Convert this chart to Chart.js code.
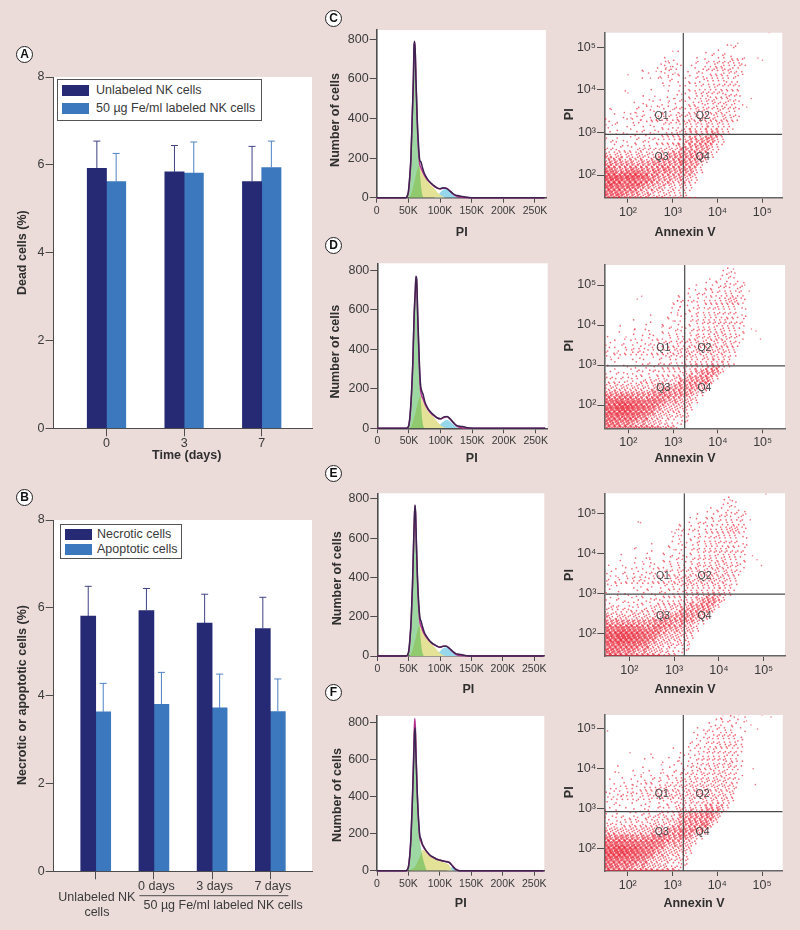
<!DOCTYPE html>
<html lang="en">
<head>
<meta charset="UTF-8">
<title>NK cell viability and cell cycle</title>
<script src="https://cdn.jsdelivr.net/npm/chart.js"></script>
<style>
  html, body { margin: 0; padding: 0; background: #ebdcda; }
  body { position: relative; width: 800px; height: 930px; overflow: hidden; font-family: "Liberation Sans", Arial, sans-serif; color: #3a3a3a; }
  canvas { position: absolute; }
  .letter { position: absolute; width: 15px; height: 15px; border: 1.3px solid #222; border-radius: 50%; background: #fff; color: #111; font: bold 12px/15px "Liberation Sans", Arial, sans-serif; text-align: center; z-index: 3; }
  .legend { position: absolute; box-sizing: border-box; background: #fff; border: 1.4px solid #555; font-size: 12.5px; z-index: 3; }
  .legend div { position: absolute; left: 38px; white-space: nowrap; line-height: 14px; }
  .legend i { position: absolute; left: 4px; width: 26.5px; height: 11px; }
</style>
</head>
<body>

<div class="letter" style="left:16px;top:46px">A</div>
<div class="letter" style="left:16px;top:489px">B</div>
<div class="letter" style="left:325px;top:10px">C</div>
<div class="letter" style="left:325px;top:237px">D</div>
<div class="letter" style="left:325px;top:465px">E</div>
<div class="letter" style="left:325px;top:684px">F</div>

<div class="legend" style="left:57px;top:79px;width:205px;height:42px">
  <i style="top:5px;background:#262a75"></i><div style="top:3px">Unlabeled NK cells</div>
  <i style="top:23px;background:#3c78be"></i><div style="top:21px">50 µg Fe/ml labeled NK cells</div>
</div>
<div class="legend" style="left:60px;top:524px;width:122px;height:35px">
  <i style="top:3.5px;background:#262a75"></i><div style="top:2px;left:36px">Necrotic cells</div>
  <i style="top:19px;background:#3c78be"></i><div style="top:17px;left:36px">Apoptotic cells</div>
</div>

<canvas id="panelA"></canvas>
<canvas id="panelB"></canvas>
<canvas id="histC"></canvas>
<canvas id="histD"></canvas>
<canvas id="histE"></canvas>
<canvas id="histF"></canvas>
<canvas id="dotC"></canvas>
<canvas id="dotD"></canvas>
<canvas id="dotE"></canvas>
<canvas id="dotF"></canvas>

<script>
  // Panel A
  const daysA = ['0', '3', '7'];
  const unlabeledA = [5.92, 5.84, 5.62];
  const labeledA = [5.62, 5.81, 5.94];
  const unlabeledTopA = [6.54, 6.44, 6.42];
  const labeledTopA = [6.26, 6.52, 6.54];

  // Panel B
  const groupsB = ['', '0 days', '3 days', '7 days'];
  const necroticB = [5.81, 5.94, 5.65, 5.53];
  const apoptoticB = [3.63, 3.80, 3.72, 3.64];
  const necroticTopB = [6.49, 6.44, 6.31, 6.24];
  const apoptoticTopB = [4.28, 4.53, 4.49, 4.38];

  // Histograms C-F, PI in thousands
  const piK = [0,44,46,48,50,52,54,56,58,59,60,61,62,64,66,68,70,72,75,80,85,90,95,100,105,110,115,120,125,130,135,140,150,265];
  const rawC =     [0,0,0,8,30,100,200,400,610,770,790,730,600,400,270,190,180,155,125,95,75,62,50,45,50,47,35,22,12,10,6,3,0,0];
  const modelC =   [0,0,0,6,25,90,190,390,600,760,785,720,590,380,240,170,150,135,115,90,75,60,50,45,48,48,36,20,10,5,2,1,0,0];
  const g1C =      [0,0,0,4,20,70,170,360,570,740,780,710,590,390,250,140,60,15,0,0,0,0,0,0,0,0,0,0,0,0,0,0,0,0];
  const sC =       [0,0,0,0,0,5,15,35,60,72,85,100,115,140,160,150,140,125,110,85,65,50,30,15,5,0,0,0,0,0,0,0,0,0];
  const g2C =      [0,0,0,0,0,0,0,0,0,0,0,0,0,0,0,0,0,0,0,0,0,0,8,25,40,45,32,18,6,0,0,0,0,0];

  const rawD =     [0,0,0,4,20,80,180,330,560,640,700,770,760,560,370,230,190,175,135,100,80,65,52,48,58,60,48,30,15,10,9,4,0,0];
  const modelD =   [0,0,0,3,16,70,170,320,550,630,690,765,750,540,340,205,165,150,125,95,75,62,52,48,55,58,46,28,12,5,2,1,0,0];
  const g1D =      [0,0,0,2,12,55,150,300,530,610,680,760,740,530,340,190,75,20,0,0,0,0,0,0,0,0,0,0,0,0,0,0,0,0];
  const sD =       [0,0,0,0,0,4,12,30,55,65,75,90,105,130,150,165,150,135,118,85,68,52,32,15,5,0,0,0,0,0,0,0,0,0];
  const g2D =      [0,0,0,0,0,0,0,0,0,0,0,0,0,0,0,0,0,0,0,0,0,0,8,22,36,42,35,20,7,0,0,0,0,0];

  const rawE =     [0,0,0,5,25,90,190,360,600,700,770,730,610,400,270,195,175,150,120,92,72,60,50,45,50,50,38,24,12,9,6,3,0,0];
  const modelE =   [0,0,0,4,20,80,180,350,590,690,765,720,600,385,245,170,150,132,112,88,70,58,50,44,50,50,38,22,9,4,2,1,0,0];
  const g1E =      [0,0,0,3,15,62,160,330,570,670,760,710,590,385,240,130,55,15,0,0,0,0,0,0,0,0,0,0,0,0,0,0,0,0];
  const sE =       [0,0,0,0,0,4,12,30,55,65,78,90,105,130,150,155,140,125,108,82,65,50,30,14,4,0,0,0,0,0,0,0,0,0];
  const g2E =      [0,0,0,0,0,0,0,0,0,0,0,0,0,0,0,0,0,0,0,0,0,0,8,24,40,44,35,18,6,0,0,0,0,0];

  const rawF =     [0,0,0,4,22,80,180,350,560,680,770,740,620,420,280,190,170,145,125,100,82,72,62,58,52,48,44,25,8,0,0,0,0,0];
  const modelF =   [0,0,0,4,20,75,175,350,590,720,820,770,640,420,270,180,158,140,122,98,80,70,62,56,52,50,45,26,8,1,0,0,0,0];
  const g1F =      [0,0,0,3,16,65,160,330,550,670,760,730,610,400,260,170,120,80,40,0,0,0,0,0,0,0,0,0,0,0,0,0,0,0];
  const sF =       [0,0,0,0,0,2,5,10,15,17,20,25,30,45,60,75,90,110,112,92,78,66,58,52,46,40,30,2,0,0,0,0,0,0];
  const g2F =      [0,0,0,0,0,0,0,0,0,0,0,0,0,0,0,0,0,0,0,0,0,0,0,0,0,0,12,18,6,0,0,0,0,0];

  // Dot plots: log10 positions. Density rows, one row every
  // 0.06 decade of PI, one column every 0.06 decade of Annexin V from 10^1.46.
  // upper* rows run from 10^5.42 to 10^3.26, grid* rows from 10^3.2 to 10^1.46.
  const gateC = [3.234, 2.958];
  const gateD = [3.259, 2.98];
  const gateE = [3.228, 2.987];
  const gateF = [3.241, 2.92];
  const quadC = [[2.75,3.39],[3.67,3.39],[2.75,2.42],[3.67,2.42]];
  const quadD = [[2.78,3.42],[3.7,3.42],[2.78,2.43],[3.7,2.43]];
  const quadE = [[2.75,3.44],[3.68,3.44],[2.75,2.43],[3.68,2.43]];
  const quadF = [[2.76,3.36],[3.67,3.36],[2.76,2.41],[3.67,2.41]];

  const upperC = [
    '', '', '', '', '', '',
    '0000000000 0000000000 0000000000 0000000000 0000003004',
    '0000000000 0000000000 0000000000 0000000000 0000000040',
    '0000000000 0000000000 0000000400 0000000000 0040000000',
    '0000000000 0000000000 0000000000 0000000040 0300040000',
    '0000000000 0000000000 0000000000 0000000000 4000300400',
    '0000000000 0000000000 0030000000 0000400300 0040400304 0300',
    '0000000000 0000000000 0004003000 0000040003 0403040530 4000',
    '0000000000 0000000000 0400400300 0000300040 0530405040 5400',
    '0000000000 0000000000 0030040040 0040000304 0405304050 4040',
    '0000000000 0000000000 3004030400 0000400503 0340530450 5000',
    '0000000000 0000300000 0400300000 0300030040 3050405304 0400',
    '0000000000 0000003000 0030040300 0000403004 0403503040 0300',
    '0000000000 0000000000 0300300040 0040030500 3040304003 4000',
    '0000000000 0000400000 4000030000 3000400340 5030504030',
    '0000000000 0000000000 0000300400 0400030040 3040340503',
    '0000000000 0000000000 0030000000 0030400305 0403050304',
    '0000000000 0000000000 0000400030 4000304003 0530403040 3000',
    '0000000000 0000000300 0000000000 0400030405 0304030503',
    '0000000040 0000000000 0000300040 0030400304 0503405030 4000',
    '0000000000 0000000000 0000000300 4000304050 3040530403',
    '0000000000 0000400000 0004000000 0300403045 0304053040 3000',
    '0000000000 0000000300 0300004003 0040304053 0450304503',
    '0000000000 0300000040 0000300040 3004035040 5304053040 4000',
    '0000000000 0000300000 0400003000 0403004530 4050340530 0300',
    '0000000000 0003004000 3000400304 0030450304 0530450304',
    '0030000000 0040000300 0040003040 3040530450 3045305040 3000',
    '0000000300 0300400040 0300400304 0403504035 0453054030',
    '0000400000 3000030004 0030040403 0450340530 4530450304',
    '0000000400 0040300400 3040300450 3040530453 0450530430 4000',
    '3000000030 4003000304 0403040305 0453045304 5304530403',
    '0040030000 0304003040 3004050340 4530453045 3054304030'
  ];
  const upperD = [
    '0000000000 0000000000 0000000000 0000000000 0000004000',
    '0000000000 0000000000 0000000000 0000000000 0000300400',
    '0000000000 0000000000 0000000000 0000000000 0000030040',
    '0000000000 0000000000 0000000000 0000000000 0000400300',
    '0000000000 0000000000 0000000000 0000000003 0004003040',
    '0000000000 0000000000 0000000000 0000000000 0300040003',
    '0000000000 0000000000 0000000000 0000000040 0030040304 0030',
    '0000000000 0000000000 0000000000 0000300000 3004030040 0300',
    '0000000000 0000000000 0000000000 0400000304 0030403004 3000',
    '0000000000 0000000000 0000000000 0000300040 3004030403 0400',
    '0000000000 0000000000 0000000000 0300040300 4030040300 4000',
    '0000000000 0000000000 0000000300 0000304003 0405030405 0300',
    '0000000000 0000000000 0000000040 0040030040 3004030566 0400',
    '0000000000 0000000000 0000000403 0304000304 0403055677 0030',
    '0000000000 0000000000 0000000030 0040300403 0304035664 0300',
    '0000000000 0000000000 0000004000 0300040030 4030403040 4000',
    '0000000000 0000000000 0000030040 0004030403 0530403040 0300',
    '0000000000 0000000000 0000000300 0400300040 3040304030 0040',
    '0000000000 0000000000 0000040000 0030040304 0304050304',
    '0000000000 0000000300 0000000300 4000300403 0530403050 0300',
    '0000000000 0000000000 0003000040 0030400304 0403050304 0040',
    '0000000000 0300000000 0000300000 3004030405 0304053040 0030',
    '0000000000 0000000400 0000004030 0040300403 0504030403 0400',
    '0000000000 0000030000 0300000300 0300403040 5040304050 3000',
    '0000004000 0000000000 0040030004 0030040305 0340503040 0040',
    '0000000000 0300040000 0000400300 4003040304 0503405030 3000',
    '0000030000 0000003000 0300004030 0040304053 0405304050 0400',
    '0000000000 0400000300 0040300400 3040030405 0350430405 0030',
    '0300000000 0000300040 0000300403 0030450304 0530450304 3000',
    '0000000300 0300004003 0400400304 0403504035 0453054030 0300',
    '0000400000 3000300040 3004030403 0450340530 4530450304 0000',
    '0030000300 0040030400 3040300450 3040530453 0450530430 4000',
    '3000004000 3004003040 0403040305 0453045304 5304530403',
    '0040300030 0304030040 3040503404 4530453045 3054304030',
    '0400030040 3004003040 3050403450 5304530453 4530454030',
    '3004000300 4030400304 0304530450 4530453045 3045304030',
    '0300403040 3040304030 4053045304 5345304530 4530450304'
  ];
  const upperE = upperD;
  const upperF = [
    '',
    '0000000000 0000000000 0000000000 0000000000 0000300400 3000',
    '0000000000 0000000000 0000000000 0000000000 0004000030 0040',
    '0000000000 0000000000 0000000000 0000000000 0030400300 4000',
    '0000000000 0000000000 0000000000 0000000004 0000304003 0030',
    '0000000000 0000000000 0000000000 0000000000 0403000400',
    '0000000000 0000000000 0000000000 0000030000 3004030040 0300',
    '0000000000 0000000000 0000000000 0000000403 0030040300',
    '0000000000 0000000000 0000000000 0004000030 4003040300 0040',
    '0000000000 0000000000 0000000000 0000030040 0304030405',
    '0000000000 0000000000 0000000000 0000000304 0030405030 0300',
    '0000000000 0000000000 0000000000 0000400030 4050304040 0400',
    '0000000000 0000000000 0000000000 0003004003 0403050304 3000',
    '0000000000 0000000000 0000000000 0030040030 4053040503 0300',
    '0000000000 0000000000 0000000000 0400300404 0304053040 0400',
    '0000000000 0000000000 0000004000 0000403003 0450304030 3000',
    '0000000000 0000000000 0000000000 0030040304 0304040503 0300',
    '0000000000 0000000400 0000000030 0300040030 4050304030',
    '0000000000 0000000000 0000000000 4000300405 0304053040 3000',
    '0000000000 0000030040 0000400040 0030040304 0503040304',
    '0000000000 0000000000 0000000300 0300403040 3040530403 0300',
    '0000000000 0000000000 0040000004 0004030403 0504030530',
    '0000040000 0000000000 0000003000 0403004053 0430405304 0400',
    '0000000000 0000300000 0000400003 0030430403 0530405030',
    '0000000000 0400000300 0030000400 4003043040 5304053040 3000',
    '0000300000 0000000000 0300004003 0304003504 0304530403',
    '0000000000 0300000400 0004030040 3040304530 4053045030 0300',
    '0000000400 0000300004 0300400304 0030450304 0530450304',
    '0030000000 3000040030 0400300403 4050304053 0453054030 3000',
    '0000000300 0040030400 3004030450 3045304530 4530450304',
    '0000300000 0300403040 0304040305 0453045304 5304530430',
    '3000004030 0040030403 0403504045 3045304530 4530453043',
    '0040300040 3004030403 4053045304 5304530453 0453045030',
    '0300403004 0300403040 3045304530 4530453045 3045304530',
    '4030040300 4030403504 5304530453 0453045304 5304530430',
    '0403004030 4003504030 4530453045 3045304530 4530450300',
    '3004030403 0403040530 4530453045 3045304530 4530453040'
  ];

  const gridC = [
    '0000100000 0100000100 0010100010 2010201020 1020102000',
    '0100000010 0000100010 0100010100 1020102030 2010201000',
    '0000010000 1000010001 0010200101 2030201030 2030102010',
    '0010000100 0010100100 1001010120 1030302030 4130201000',
    '1000100010 0100010010 0102010201 3020314032 5142201000',
    '0100010000 1001000101 0010101020 2031302143 4130200000',
    '1001000100 0010010010 1020102030 1230413132 3120100000',
    '0010100010 0100101001 0101020102 3140314241 3020100000',
    '1000100101 0010010100 2010102130 2041324131 3010100000',
    '0101001000 1001010101 0201120213 4130423132 2010000000',
    '1010110101 0011101020 1120211041 3142313230 2010000000',
    '2110211011 1011201120 2110213132 4132413141 1010000000',
    '3120112011 2011112021 1121314142 3251413120 1000000000',
    '3231213021 1121201122 3121324151 4152413120 1000000000',
    '4132314121 3121312132 3241314253 5142413110 0000000000',
    '5241413231 3221323133 4231524253 4142312010 0000000000',
    '5352414241 3241314241 4352413152 4132302000 0000000000',
    '6453525142 5342514142 5243514142 4241301000 0000000000',
    '6564616253 5463525253 5253413241 4131201000 0000000000',
    '7567728675 6873666253 4241423142 3132201000 0000000000',
    '7986798679 7889768253 4231423132 3231100000 0000000000',
    '8798879688 7976867352 4132313231 2120100000 0000000000',
    '7887898678 7966675342 3231312132 2120100000 0000000000',
    '7678879667 6768534132 3122312021 3010100000 0000000000',
    '6785676567 5654413231 2130212021 2010000000 0000000000',
    '6576676454 5342423121 3120211021 1010000000 0000000000',
    '5675565343 4342312031 2120112010 2010000000 0000000000',
    '5464574342 3241213120 2011201010 1000000000 0000000000',
    '5343454231 3132213021 1120101010 1000000000 0000000000',
    '8987879878 8776787776 7667676765 6757500000 0000000000'
  ];
  const gridD = [
    '0000010000 0001000010 0100100010 1020100120 1020102000',
    '0010000000 1000100000 1000101000 1010201020 3020201000',
    '0000100000 0010000100 0100010101 1010102010 2020301000',
    '0100000100 0000101000 1010100100 2010301020 3020201010',
    '0000000010 0100010010 0101010201 1020201030 4130201000',
    '1000100000 1001000101 0010102010 2020301140 5230100000',
    '0010010100 0010100010 1010101021 1020313241 4231100000',
    '1000100010 1001001001 0101020102 2130214152 4120000000',
    '0101000101 0010100100 2010201120 1131324252 3010000000',
    '1010101000 1010010101 1021011031 2132314152 2010000000',
    '0101010110 1001110120 1120201132 3132415341 1000000000',
    '1120110101 1011201011 2110212142 3241423130 1000000000',
    '2011102110 1110112021 1221213142 3142412120 0000000000',
    '2120211211 2112101122 2131323142 3241312110 0000000000',
    '3121322121 2121221233 2142313242 3131211010 0000000000',
    '4231324232 3132323232 3342414141 3231201000 0000000000',
    '5342435343 4241324143 4253413142 3120201000 0000000000',
    '6453546455 5353425353 4342413132 2121100000 0000000000',
    '6654767666 6564645353 4342313122 2120100000 0000000000',
    '7565789877 7676646453 3231213121 2110100000 0000000000',
    '7686879888 8786754453 3131211212 1110000000 0000000000',
    '7796889897 8676765352 3121212111 2010000000 0000000000',
    '8677788988 7676564342 3212121101 1010000000 0000000000',
    '7787687877 6765543332 2121201120 1100000000 0000000000',
    '6766786676 5654433231 2112110111 0100000000 0000000000',
    '6675665565 5443342221 2101201010 1000000000 0000000000',
    '5565564454 4342233121 1201101001 0100000000 0000000000',
    '5454453343 3232312121 1102010100 1000000000 0000000000',
    '4543442342 3221322110 2011010010 0000000000 0000000000',
    '6566565656 5655454543 4323232100 0000000000 0000000000'
  ];
  const gridE = [
    '0000100000 0001000100 0010010010 1020101020 1020102000',
    '0100000000 1000010000 1001010100 2010102010 2030201000',
    '0000010000 0010001000 0100100101 1020201020 2020201010',
    '1000000100 0000100100 1010010100 1010301020 3021201000',
    '0000100010 0101000010 0101010201 2020102130 4130201000',
    '0010010000 1000100101 0010201010 2020311141 5220100000',
    '1000100100 0010010010 1101010211 1020213241 4131100000',
    '0100001010 1001001001 0102010102 2130213152 4020000000',
    '1001010001 0010100101 2010112120 1131314242 3110000000',
    '0110100100 1010010110 1020111031 2132315142 2010000000',
    '1010101011 0101110120 1120201232 3132415241 1000000000',
    '2101101010 1101201011 2110212141 3241413130 1000000000',
    '2110211201 1110112021 2121213142 3142312120 0000000000',
    '3120212110 2112111122 2131323243 3231312110 0000000000',
    '3221312211 2121222133 2142314242 3131211010 0000000000',
    '4231423232 3132323132 3342414142 3131201000 0000000000',
    '5342435243 4241324243 4253412142 2120201000 0000000000',
    '6453546454 5353425253 4342313132 2121100000 0000000000',
    '6554667565 6464645353 4242313122 2110100000 0000000000',
    '7565778776 7676646453 3231213121 2110100000 0000000000',
    '7686898887 8786754443 3131212112 1010000000 0000000000',
    '7796889987 8776765342 3121212111 2010000000 0000000000',
    '8677799988 7776564342 2212121101 1010000000 0000000000',
    '7787788878 6765543232 2121201110 1100000000 0000000000',
    '6766786676 5654433131 2112110111 0100000000 0000000000',
    '6675665565 5443342221 2101201010 1000000000 0000000000',
    '5565564454 4342233121 1201101001 0100000000 0000000000',
    '5454453343 3232312111 1102010100 1000000000 0000000000',
    '4543442342 3221322110 2011010010 0000000000 0000000000',
    '7676575656 6655454543 4323222100 0000000000 0000000000'
  ];
  const gridF = [
    '0100000000 0010000100 0010010100 1011010210 1020102010',
    '0000100000 1000010000 1001001011 1020102021 2030201000',
    '0000001000 0000100100 0100100110 2010201030 3021301000',
    '0010000010 0100010000 1010100121 2011202031 4032201000',
    '1000100000 0001001001 0101010211 2130213142 4130210000',
    '0100010000 1010010100 0120101021 3132314243 5231100000',
    '0001000100 0100100101 1011021031 2231424152 4221000000',
    '1000101001 0010011010 1021010231 3141425253 3120000000',
    '0010010010 1011001011 2010211122 3241424262 3110000000',
    '1101001010 1010101101 2021101231 3242515352 2010000000',
    '0110101101 1101110211 1120211242 4251415351 1000000000',
    '1201110110 1120111121 2120213242 3242514241 1000000000',
    '2121211211 2121112122 1221314243 4243423120 0000000000',
    '3122121222 1212212132 2232324253 4242313110 0000000000',
    '3231322323 2321322233 2243324243 3241211010 0000000000',
    '4342433332 3232333243 3342424242 3131201000 0000000000',
    '5443544443 4342434343 4353423142 3120101000 0000000000',
    '6554655554 5453535353 4342413132 2121100000 0000000000',
    '7665766665 6565645453 4342313122 2110100000 0000000000',
    '7776889876 7776656463 3332223131 2110000000 0000000000',
    '8787989987 8786765453 3231212112 1110000000 0000000000',
    '8797989987 8776764352 3221212111 2010000000 0000000000',
    '8788799887 7776654342 3212121101 1010000000 0000000000',
    '7787788777 6765543332 2131201120 1100000000 0000000000',
    '6776776676 5654433231 2122110111 0100000000 0000000000',
    '6675665565 5443342221 2111201010 1000000000 0000000000',
    '5565564454 4342233121 1201101011 0100000000 0000000000',
    '5454453343 3232312121 1112010100 1000000000 0000000000',
    '4543442342 3221322120 2011011010 0000000000 0000000000',
    '7676676766 6656565654 5434323110 0000000000 0000000000'
  ];

  const dotsC = [[2.0,4.36],[2.34,4.44],[2.9,4.68],[2.85,4.52],[2.95,4.55],[3.0,4.91],[2.63,4.44],[2.5,4.28],[2.75,4.28],[2.9,4.3],[3.05,4.4],[2.8,4.1],[2.0,3.93],[2.6,3.85],[1.63,3.54],[1.51,3.18],[1.65,3.17],[2.19,3.46],[2.07,3.34],[2.41,3.65],[2.52,3.61],[2.63,3.3],[2.86,3.3],[3.0,3.54],[3.1,3.3],[2.3,3.3],[2.7,3.6],[2.9,3.7],[3.05,3.8],[3.15,3.45],[3.2,3.9],[4.45,5.1],[4.3,5.05],[4.9,4.75],[5.0,4.7],[5.15,5.35],[4.6,4.75],[4.65,3.6],[4.75,3.8]];
  const dotsD = [[2.2,4.65],[2.3,4.72],[2.75,3.95],[3.0,4.55],[3.1,4.6],[3.15,4.45],[3.0,4.1],[3.1,4.3],[2.15,3.9],[1.95,3.7],[1.75,3.3],[1.6,3.2],[4.6,5.0],[4.7,4.85],[4.75,3.9],[4.85,3.85],[4.95,3.65],[5.0,5.55],[4.25,5.3],[4.35,5.4]];
  const dotsE = [[2.2,4.8],[2.25,4.78],[2.15,4.15],[2.45,3.9],[2.95,4.55],[3.05,4.6],[3.1,4.45],[3.0,4.1],[3.15,4.3],[2.3,3.8],[1.85,3.7],[1.75,3.4],[1.6,3.2],[4.6,5.0],[4.7,4.85],[4.75,3.95],[4.85,3.85],[4.95,3.7],[5.05,5.5],[4.25,5.35]];
  const dotsF = [[1.55,4.95],[2.05,4.4],[2.3,3.85],[2.35,3.9],[2.75,4.1],[2.8,3.9],[3.15,4.2],[3.2,3.9],[1.8,3.9],[2.1,3.6],[1.85,3.3],[1.7,3.1],[4.85,3.6],[4.9,5.0],[5.0,5.35],[5.2,5.3],[4.8,4.0],[4.75,5.1],[4.65,5.2]];

  const tickFont = { family: '"Liberation Sans", Arial, sans-serif', size: 12.5 };
  const inkColor = '#3a3a3a';
  const axisColor = '#4d4d4d';

  // white plot background
  const plotBg = {
    id: 'plotBg',
    beforeDraw(chart) {
      const a = chart.chartArea;
      chart.ctx.save();
      chart.ctx.fillStyle = '#fff';
      chart.ctx.fillRect(a.left, a.top, a.right - a.left, a.bottom - a.top);
      chart.ctx.restore();
    }
  };

  // axis titles, placed where the figure has them (page coordinates)
  const axisTitles = {
    id: 'axisTitles',
    afterDraw(chart, args, opts) {
      const c = chart.ctx, box = chart.canvas.getBoundingClientRect();
      c.save();
      c.fillStyle = '#2f2f2f';
      c.font = 'bold 12.5px "Liberation Sans", Arial, sans-serif';
      c.textAlign = 'center';
      c.textBaseline = 'middle';
      c.fillText(opts.x[0], opts.x[1] - box.left, opts.x[2] - box.top);
      c.translate(opts.y[1] - box.left, opts.y[2] - box.top);
      c.rotate(-Math.PI / 2);
      c.fillText(opts.y[0], 0, 0);
      c.restore();
    }
  };

  const errorBars = {
    id: 'errorBars',
    afterDatasetsDraw(chart, args, opts) {
      const c = chart.ctx, y = chart.scales.y;
      opts.tops.forEach((tops, i) => {
        chart.getDatasetMeta(i).data.forEach((bar, j) => {
          const top = y.getPixelForValue(tops[j]);
          c.save();
          c.strokeStyle = opts.colors[i];
          c.lineWidth = 1;
          c.beginPath();
          c.moveTo(bar.x, bar.y);
          c.lineTo(bar.x, top);
          c.moveTo(bar.x - 3.5, top);
          c.lineTo(bar.x + 3.5, top);
          c.stroke();
          c.restore();
        });
      });
    }
  };

  const groupLabels = {
    id: 'groupLabels',
    afterDraw(chart) {
      const c = chart.ctx, x = chart.scales.x, t = chart.canvas.getBoundingClientRect().top;
      c.save();
      c.fillStyle = inkColor;
      c.font = '12.5px "Liberation Sans", Arial, sans-serif';
      c.textAlign = 'center';
      c.textBaseline = 'middle';
      c.fillText('Unlabeled NK', x.getPixelForValue(0.02), 897.7 - t);
      c.fillText('cells', x.getPixelForValue(0.02), 912.7 - t);
      c.fillText('50 µg Fe/ml labeled NK cells', x.getPixelForValue(2.19), 905.3 - t);
      c.strokeStyle = axisColor;
      c.lineWidth = 1;
      c.beginPath();
      c.moveTo(x.getPixelForValue(0.75), 895.7 - t);
      c.lineTo(x.getPixelForValue(3.31), 895.7 - t);
      c.stroke();
      c.restore();
    }
  };

  const quadLabels = {
    id: 'quadLabels',
    afterDatasetsDraw(chart, args, opts) {
      const c = chart.ctx;
      c.save();
      c.fillStyle = '#444';
      c.font = '10.5px "Liberation Sans", Arial, sans-serif';
      c.textAlign = 'center';
      c.textBaseline = 'middle';
      opts.spots.forEach((p, i) => {
        c.fillText('Q' + (i + 1), chart.scales.x.getPixelForValue(10 ** p[0]), chart.scales.y.getPixelForValue(10 ** p[1]));
      });
      c.restore();
    }
  };

  // size a canvas and pin the plot area to page coordinates
  function pin(canvas, box) {
    canvas.width = box.w;
    canvas.height = box.h;
    canvas.style.left = box.x + 'px';
    canvas.style.top = box.y + 'px';
    canvas.style.width = box.w + 'px';
    canvas.style.height = box.h + 'px';
    return {
      padding: { left: 0, top: box.t - box.y, right: box.x + box.w - box.r, bottom: 0 },
      fitY: s => { s.width = box.l - box.x; },
      fitX: s => { s.height = box.y + box.h - box.b; }
    };
  }

  function barPanel(id, box, labels, series, tops, names, thickness, xmin, xmax, titles, extra, labelOffset) {
    const fit = pin(document.getElementById(id), box);
    new Chart(document.getElementById(id), {
      type: 'bar',
      data: {
        datasets: series.map((vals, i) => ({
          label: names[i],
          data: vals.map((v, j) => ({ x: j, y: v })),
          backgroundColor: ['#262a75', '#3c78be'][i],
          barThickness: thickness,
          borderWidth: 0
        }))
      },
      options: {
        responsive: false,
        animation: false,
        layout: { padding: fit.padding },
        scales: {
          x: {
            type: 'linear', min: xmin, max: xmax, offset: false,
            grid: { offset: false, drawOnChartArea: false, tickLength: 8, color: axisColor },
            border: { color: axisColor, width: 1 },
            afterBuildTicks: s => { s.ticks = labels.map((l, i) => ({ value: i })); },
            afterFit: fit.fitX,
            ticks: { font: tickFont, color: inkColor, padding: 0, maxRotation: 0, autoSkip: false, labelOffset: labelOffset, callback: v => labels[v] }
          },
          y: {
            min: 0, max: 8,
            grid: { drawOnChartArea: false, tickLength: 8, color: axisColor },
            border: { color: axisColor, width: 1 },
            afterBuildTicks: s => { s.ticks = [0, 2, 4, 6, 8].map(v => ({ value: v })); },
            afterFit: fit.fitY,
            ticks: { font: tickFont, color: inkColor, padding: 1 }
          }
        },
        plugins: {
          legend: { display: false },
          tooltip: { enabled: false },
          axisTitles: titles,
          errorBars: { tops: tops, colors: ['#3f4285', '#4e82c4'] }
        }
      },
      plugins: [plotBg, axisTitles, errorBars].concat(extra)
    });
  }

  function histPanel(id, box, xmax, ymax, raw, model, g1, s, g2, titles) {
    const fit = pin(document.getElementById(id), box);
    const pts = vals => vals.map((v, i) => ({ x: piK[i], y: v }));
    const curve = (label, vals, border, fill) => ({
      label: label,
      data: pts(vals),
      borderColor: border,
      borderWidth: fill ? 0 : 1.5,
      backgroundColor: fill || 'transparent',
      fill: fill ? 'origin' : false,
      pointRadius: 0,
      cubicInterpolationMode: 'monotone',
      clip: 2
    });
    new Chart(document.getElementById(id), {
      type: 'line',
      data: {
        datasets: [
          curve('Data', raw, '#3d2450'),
          curve('Model', model, '#b4308e'),
          curve('G1', g1, 'transparent', 'rgba(60,175,70,0.5)'),
          curve('S', s, 'transparent', 'rgb(228,226,150)'),
          curve('G2', g2, 'transparent', 'rgb(150,215,235)')
        ]
      },
      options: {
        responsive: false,
        animation: false,
        layout: { padding: fit.padding },
        scales: {
          x: {
            type: 'linear', min: 0, max: xmax,
            grid: { drawOnChartArea: false, tickLength: 5, color: axisColor },
            border: { color: axisColor, width: 1.6 },
            afterBuildTicks: sc => { sc.ticks = [0, 50, 100, 150, 200, 250].map(v => ({ value: v })); },
            afterFit: fit.fitX,
            ticks: { font: { family: tickFont.family, size: 10.5 }, color: inkColor, padding: 2, maxRotation: 0, autoSkip: false, callback: v => v === 0 ? '0' : v + 'K' }
          },
          y: {
            min: 0, max: ymax,
            grid: { drawOnChartArea: false, tickLength: 7, color: axisColor },
            border: { color: axisColor, width: 1.6 },
            afterBuildTicks: sc => { sc.ticks = [0, 200, 400, 600, 800].map(v => ({ value: v })); },
            afterFit: fit.fitY,
            ticks: { font: tickFont, color: inkColor, padding: 1 }
          }
        },
        plugins: { legend: { display: false }, tooltip: { enabled: false }, axisTitles: titles }
      },
      plugins: [plotBg, axisTitles]
    });
  }

  const powerLabel = { 100: '10²', 1000: '10³', 10000: '10⁴', 100000: '10⁵' };

  function dotPanel(id, box, xlog, ylog, upper, grid, dots, gate, quad, titles) {
    const fit = pin(document.getElementById(id), box);
    const cells = [], alphas = [], radii = [];
    // rows and columns are nudged a little so the density cells do not line up
    upper.concat(grid).forEach((row, r) => {
      row.replace(/ /g, '').split('').forEach((d, c) => {
        if (d === '0') return;
        cells.push({ x: 10 ** (1.46 + c * 0.06 + (r % 3) * 0.02), y: 10 ** (5.42 - r * 0.06 - (c % 2) * 0.03) });
        const n = +d, sparse = r < upper.length || n <= 2;
        alphas.push('rgba(232,28,48,' + (sparse ? 0.65 : n <= 5 ? 0.45 + n * 0.06 : Math.min(0.78, n * 0.1)) + ')');
        radii.push(sparse ? 0.85 : n <= 5 ? 1.3 : 1.5);
      });
    });
    const xr = [10 ** xlog[0], 10 ** xlog[1]], yr = [10 ** ylog[0], 10 ** ylog[1]];
    const rule = pts => ({ data: pts, showLine: true, borderColor: '#4a4a4a', borderWidth: 1.2, pointRadius: 0 });
    new Chart(document.getElementById(id), {
      type: 'scatter',
      data: {
        datasets: [
          rule([{ x: xr[0], y: 10 ** gate[1] }, { x: xr[1], y: 10 ** gate[1] }]),
          rule([{ x: 10 ** gate[0], y: yr[0] }, { x: 10 ** gate[0], y: yr[1] }]),
          { data: dots.map(p => ({ x: 10 ** p[0], y: 10 ** p[1] })), pointRadius: 0.8, borderWidth: 0, backgroundColor: 'rgba(226,40,64,0.6)' },
          { data: cells, pointRadius: radii, borderWidth: 0, backgroundColor: alphas }
        ]
      },
      options: {
        responsive: false,
        animation: false,
        layout: { padding: fit.padding },
        scales: {
          x: {
            type: 'logarithmic', min: xr[0], max: xr[1],
            grid: { drawOnChartArea: false, tickLength: 5, color: axisColor },
            border: { color: '#666', width: 1.6 },
            afterBuildTicks: s => { s.ticks = [100, 1000, 10000, 100000].map(v => ({ value: v })); },
            afterFit: fit.fitX,
            ticks: { font: tickFont, color: inkColor, padding: 2, maxRotation: 0, autoSkip: false, callback: v => powerLabel[v] }
          },
          y: {
            type: 'logarithmic', min: yr[0], max: yr[1],
            grid: { drawOnChartArea: false, tickLength: 8, color: axisColor },
            border: { color: '#666', width: 1.6 },
            afterBuildTicks: s => { s.ticks = [100, 1000, 10000, 100000].map(v => ({ value: v })); },
            afterFit: fit.fitY,
            ticks: { font: tickFont, color: inkColor, padding: 1, autoSkip: false, callback: v => powerLabel[v] }
          }
        },
        plugins: { legend: { display: false }, tooltip: { enabled: false }, axisTitles: titles, quadLabels: { spots: quad } }
      },
      plugins: [plotBg, axisTitles, quadLabels]
    });
  }

  barPanel('panelA', { x: 0, y: 60, w: 325, h: 410, l: 53.5, t: 77, r: 312, b: 428.3 },
    daysA, [unlabeledA, labeledA], [unlabeledTopA, labeledTopA], ['Unlabeled NK cells', '50 µg Fe/ml labeled NK cells'],
    19.3, -0.683, 2.648, { x: ['Time (days)', 186.7, 456], y: ['Dead cells (%)', 23, 252.7] }, [], 0);

  barPanel('panelB', { x: 0, y: 505, w: 325, h: 425, l: 53.7, t: 520, r: 312, b: 871.3 },
    groupsB, [necroticB, apoptoticB], [necroticTopB, apoptoticTopB], ['Necrotic cells', 'Apoptotic cells'],
    15, -0.722, 3.716, { x: ['', 0, 0], y: ['Necrotic or apoptotic cells (%)', 23, 695] }, [groupLabels], 2.5);

  histPanel('histC', { x: 325, y: 20, w: 235, h: 225, l: 376.7, t: 30, r: 546, b: 197.7 }, 267.4, 847, rawC, modelC, g1C, sC, g2C,
    { x: ['PI', 461.7, 232.7], y: ['Number of cells', 335.7, 120] });
  histPanel('histD', { x: 325, y: 252, w: 235, h: 218, l: 377.3, t: 263.3, r: 547.7, b: 428.3 }, 269, 835, rawD, modelD, g1D, sD, g2D,
    { x: ['PI', 471.7, 458.3], y: ['Number of cells', 335.7, 351.7] });
  histPanel('histE', { x: 325, y: 482, w: 235, h: 218, l: 377.3, t: 493.3, r: 544.3, b: 656 }, 266, 829, rawE, modelE, g1E, sE, g2E,
    { x: ['PI', 468.3, 689.3], y: ['Number of cells', 337.3, 578.3] });
  histPanel('histF', { x: 325, y: 704, w: 235, h: 216, l: 377, t: 716, r: 544.3, b: 870.7 }, 266, 834, rawF, modelF, g1F, sF, g2F,
    { x: ['PI', 460.7, 904], y: ['Number of cells', 337.3, 795] });

  dotPanel('dotC', { x: 560, y: 20, w: 240, h: 225, l: 605, t: 32.7, r: 782.3, b: 197.7 }, [1.487, 5.444], [1.466, 5.348], upperC, gridC, dotsC, gateC, quadC,
    { x: ['Annexin V', 685, 232.7], y: ['PI', 570, 114.3] });
  dotPanel('dotD', { x: 560, y: 252, w: 240, h: 218, l: 605.3, t: 265, r: 785, b: 428.3 }, [1.487, 5.498], [1.418, 5.5], upperD, gridD, dotsD, gateD, quadD,
    { x: ['Annexin V', 685, 459], y: ['PI', 570, 345.7] });
  dotPanel('dotE', { x: 560, y: 482, w: 240, h: 218, l: 605.3, t: 493.3, r: 785, b: 656 }, [1.464, 5.475], [1.43, 5.518], upperE, gridE, dotsE, gateE, quadE,
    { x: ['Annexin V', 685, 690], y: ['PI', 570, 575] });
  dotPanel('dotF', { x: 560, y: 704, w: 240, h: 216, l: 605, t: 715, r: 782.7, b: 871 }, [1.493, 5.46], [1.43, 5.35], upperF, gridF, dotsF, gateF, quadF,
    { x: ['Annexin V', 694, 904], y: ['PI', 570, 792.3] });
</script>
</body>
</html>
